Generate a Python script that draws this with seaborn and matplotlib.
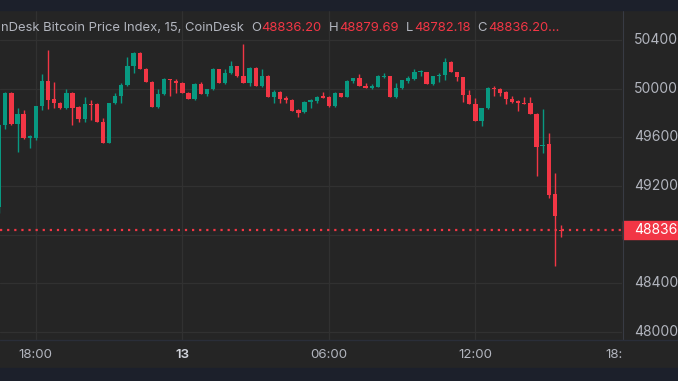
import numpy as np
import pandas as pd
import matplotlib
matplotlib.use("Agg")
import matplotlib.pyplot as plt
import seaborn as sns
from matplotlib.patches import Rectangle
from matplotlib.lines import Line2D
from matplotlib.transforms import blended_transform_factory, Bbox, TransformedBbox

# 15 minute candles, 16:30 on the 12th to 15:30 on the 13th
opens = [49027, 49701, 49964, 49710, 49792, 49600, 49595, 49858, 50063, 49915,
         49882, 49841, 49964, 49849, 49751, 49874, 49874, 49726, 49553, 49882,
         49940, 50030, 50186, 50293, 50162, 50055, 49849, 49956, 50075, 50063,
         50047, 49964, 49915, 50038, 49956, 49997, 50162, 50047, 50129, 50186,
         50104, 50047, 50170, 50022, 50104, 49932, 49973, 49923, 49907, 49825,
         49808, 49890, 49899, 49934, 49932, 49858, 49964, 49932, 50063, 50088,
         50022, 50005, 50014, 50100, 50104, 49932, 50005, 50063, 50079, 50137,
         50137, 50038, 50110, 50112, 50219, 50137, 50096, 49948, 49874, 49734,
         49841, 50000, 49997, 49973, 49915, 49899, 49882, 49882, 49792, 49530,
         49545, 49134, 48836.20]
highs = [49710, 49975, 49975, 49841, 49825, 49619, 49858, 50121, 50318, 50057,
         49890, 49997, 49970, 49858, 49934, 49907, 49880, 49759, 49882, 49964,
         50047, 50263, 50300, 50300, 50168, 50060, 49997, 50085, 50079, 50079,
         50055, 49970, 50045, 50055, 50000, 50168, 50165, 50162, 50227, 50190,
         50367, 50175, 50175, 50162, 50110, 49989, 49980, 49940, 49912, 49830,
         49895, 49912, 49937, 49975, 49937, 49970, 49968, 50068, 50092, 50121,
         50050, 50040, 50110, 50129, 50108, 50047, 50075, 50104, 50162, 50153,
         50140, 50108, 50129, 50252, 50225, 50140, 50100, 49989, 49923, 49845,
         50014, 50022, 50005, 49978, 49940, 49905, 49934, 49932, 49797, 49833,
         49636, 49307, 48879.69]
lows = [48978, 49668, 49705, 49479, 49590, 49512, 49578, 49825, 49833, 49841,
        49835, 49835, 49701, 49728, 49728, 49743, 49726, 49553, 49550, 49875,
        49882, 50025, 50129, 50162, 50055, 49849, 49845, 49950, 49940, 49964,
        49964, 49915, 49910, 49956, 49940, 49990, 50047, 50040, 50121, 50096,
        50047, 50022, 50022, 50014, 49932, 49882, 49882, 49882, 49816, 49767,
        49800, 49841, 49882, 49925, 49849, 49849, 49928, 49928, 50047, 50022,
        50005, 50000, 50010, 50088, 49932, 49925, 50000, 50047, 50075, 50104,
        50038, 50034, 50055, 50071, 50137, 50063, 49890, 49874, 49734, 49695,
        49835, 49940, 49940, 49874, 49882, 49816, 49874, 49792, 49282, 49471,
        49101, 48543, 48782.18]
closes = [49701, 49964, 49710, 49792, 49595, 49606, 49858, 50063, 49907, 49882,
          49841, 49964, 49841, 49751, 49874, 49870, 49726, 49553, 49882, 49940,
          50030, 50186, 50293, 50162, 50055, 49849, 49956, 50079, 50071, 50047,
          49964, 49915, 50038, 49956, 49997, 50162, 50047, 50129, 50186, 50104,
          50047, 50170, 50022, 50104, 49932, 49973, 49915, 49907, 49816, 49800,
          49890, 49907, 49932, 49930, 49858, 49964, 49932, 50063, 50088, 50022,
          50005, 50022, 50104, 50104, 49932, 50005, 50071, 50088, 50137, 50140,
          50038, 50104, 50114, 50219, 50137, 50096, 49948, 49874, 49734, 49841,
          50005, 49997, 49964, 49915, 49890, 49882, 49878, 49792, 49521, 49537,
          49126, 48953, 48836.20]

time_ticks = [6, 30, 54, 78, 102]
time_labels = ["18:00", "13", "06:00", "12:00", "18:00"]
price_ticks = [48000, 48400, 48800, 49200, 49600, 50000, 50400]
last_price = 48836.20
title = "nDesk Bitcoin Price Index, 15, CoinDesk"
ohlc_keys = ["O", "H", "L", "C"]
ohlc_vals = ["48836.20", "48879.69", "48782.18", "48836.20..."]

bg = "#252525"
navy = "#1c202b"
grid_c = "#313131"
up_c = "#089981"
down_c = "#f23645"
txt_c = "#b2b5be"

sns.set_theme(style="dark", rc={"axes.facecolor": bg, "figure.facecolor": bg})
plt.rcParams["font.family"] = ["Inter", "DejaVu Sans"]

df = pd.DataFrame({"open": opens, "high": highs, "low": lows, "close": closes})
df["x"] = np.arange(len(df))
df["color"] = np.where(df["close"] > df["open"], up_c, down_c)
diff = (df["close"] - df["open"]).abs()
df["body_h"] = np.maximum(diff, 9)
df["body_lo"] = np.where(diff < 9, (df["open"] + df["close"]) / 2 - 4.5,
                         np.minimum(df["open"], df["close"]))

W, H = 678, 381
fig = plt.figure(figsize=(W / 100, H / 100), dpi=100)
ax = fig.add_axes([0, 41 / H, 622 / W, 330 / H])
ax.set_facecolor(bg)

ax.vlines(df["x"], df["low"], df["high"], colors=df["color"], lw=1.0, zorder=2)
ax.bar(df["x"], df["body_h"], bottom=df["body_lo"], width=0.7,
       color=df["color"], lw=0, zorder=3)

ax.set_xlim(0.13, 101.8)
ax.set_ylim(47934, 50647)
ax.set_xticks(time_ticks)
ax.set_yticks(price_ticks)
ax.grid(True, color=grid_c, lw=0.9)
ax.tick_params(length=0, labelbottom=False, labelleft=False)
for s in ax.spines.values():
    s.set_visible(False)

# last price dotted line
ax.axhline(last_price, color=down_c, lw=1.6, ls=(0, (1, 2.2)), zorder=1)

# bands and separators
fig.add_artist(Rectangle((0, 1 - 10 / H), 1, 10 / H, transform=fig.transFigure,
                         color=navy, zorder=5))
fig.add_artist(Rectangle((0, 0), 1, 13 / H, transform=fig.transFigure,
                         color=navy, zorder=5))
fig.add_artist(Line2D([622.5 / W] * 2, [41 / H, 1 - 10 / H], transform=fig.transFigure,
                      color="#383b44", lw=0.8))
fig.add_artist(Line2D([0, 1], [41 / H] * 2, transform=fig.transFigure,
                      color="#2a2e39", lw=1.0))

# price scale
ty = blended_transform_factory(fig.transFigure, ax.transData)
for p in price_ticks:
    if abs(p - last_price) < 100:
        continue
    ax.text(634 / W, p, f"{p:.2f}", transform=ty, color=txt_c, fontsize=10,
            va="center", ha="left", clip_on=False)
ax.add_patch(Rectangle((623 / W, last_price - 74), 55 / W, 148, transform=ty,
                       color=down_c, clip_on=False, zorder=6))
ax.text(634 / W, last_price, f"{last_price:.2f}", transform=ty, color="white",
        fontsize=10, va="center", ha="left", clip_on=False, zorder=7)

# time scale
tx = blended_transform_factory(ax.transData, fig.transFigure)
clip = TransformedBbox(Bbox([[0, 0], [622 / W, 1]]), fig.transFigure)
for t, lab in zip(time_ticks, time_labels):
    bold = lab == "13"
    tt = ax.text(t, 26 / H, lab, transform=tx, ha="center", va="center",
                 fontsize=9.6, color="#d1d4dc" if bold else txt_c,
                 fontweight="semibold" if bold else "normal", clip_on=True)
    tt.set_clip_box(clip)

# header, laid out piece by piece
hy = 1 - 28 / H
hsize = 9.4
renderer = fig.canvas.get_renderer()

def put(x, s, color):
    t = fig.text(x / W, hy, s, color=color, fontsize=hsize, va="center")
    return x + t.get_window_extent(renderer).width

x = 1
x = put(x, title, txt_c) + 7
for k, v in zip(ohlc_keys, ohlc_vals):
    x = put(x, k, txt_c) + 1
    x = put(x, v, down_c) + 7

fig.savefig("out.png", dpi=100)
